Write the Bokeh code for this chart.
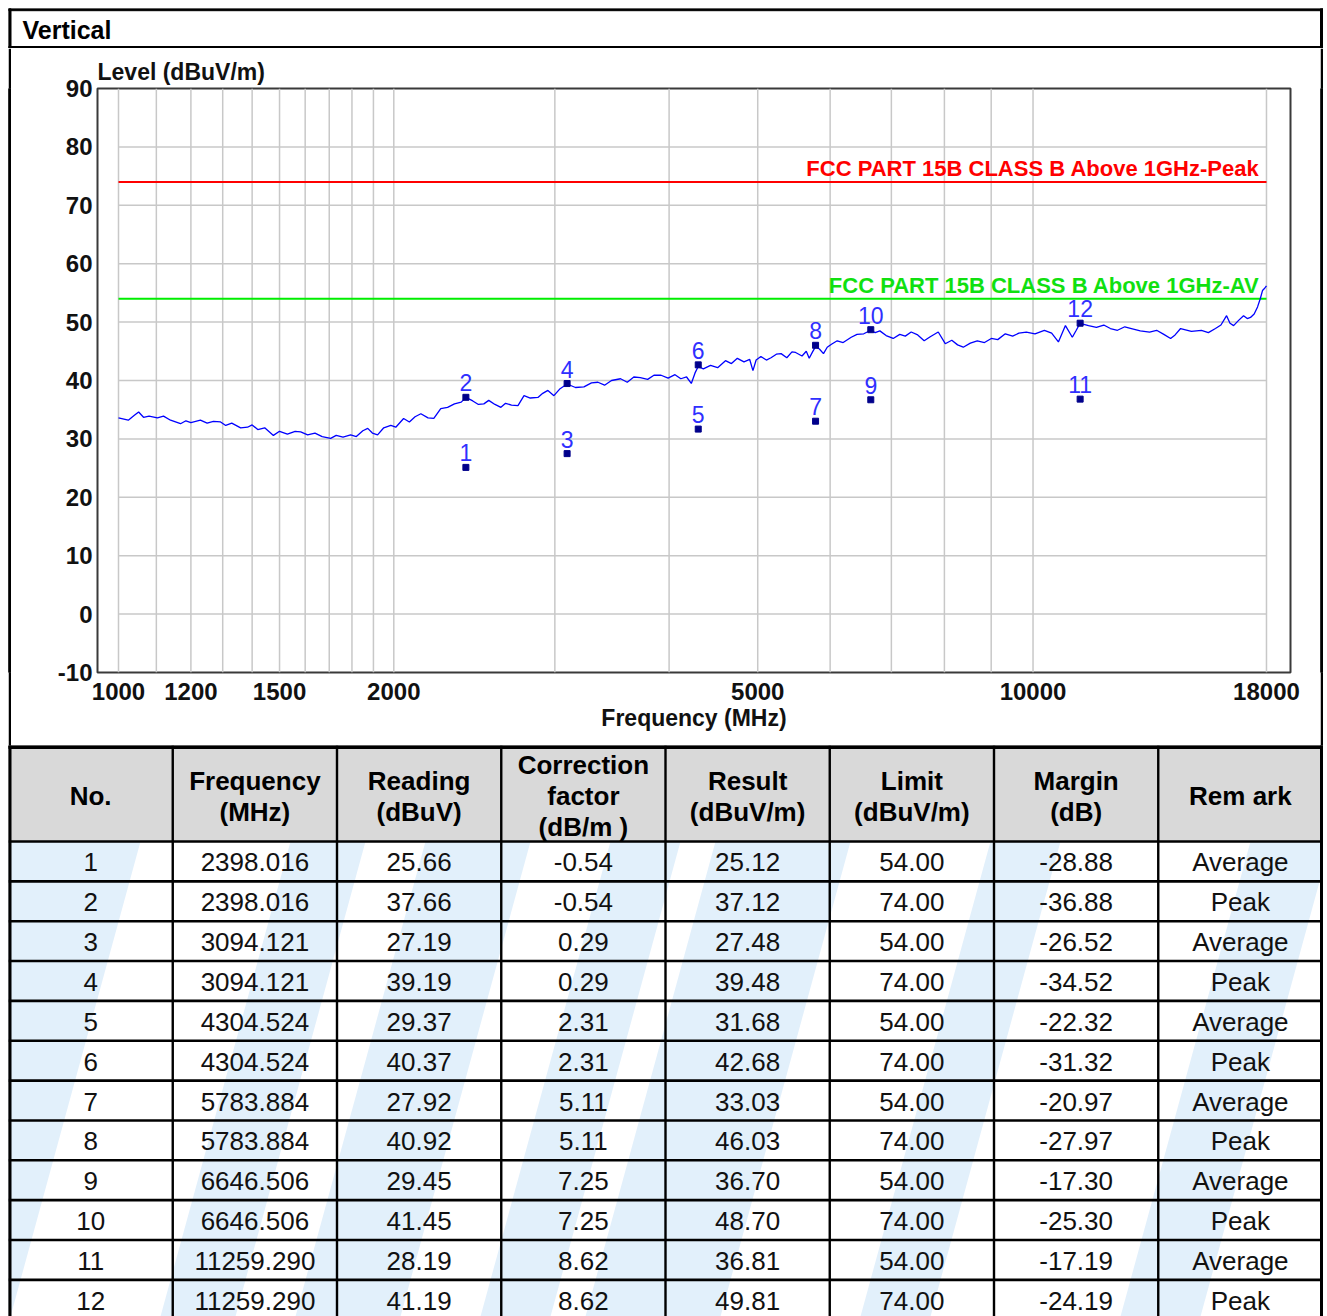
from bokeh.plotting import figure
from bokeh.models import Range1d, FixedTicker, PrintfTickFormatter
from bokeh.layouts import column, row
from bokeh.embed import file_html
from bokeh.resources import INLINE
from bokeh.core.properties import value

FONT = "Liberation Sans"

# ---------------- data ----------------
TRACE_FREQ = [1000, 1025, 1040, 1052, 1065, 1080, 1103, 1120, 1140, 1169, 1185, 1200, 1229, 1250, 1270,
              1293, 1310, 1330, 1360, 1384, 1400, 1420, 1445, 1477, 1500, 1530, 1560, 1582, 1610, 1640,
              1670, 1706, 1730, 1760, 1794, 1820, 1850, 1873, 1895, 1920, 1950, 1985, 2010, 2050, 2080,
              2110, 2141, 2180, 2212, 2251, 2290, 2330, 2370, 2398, 2440, 2475, 2509, 2540, 2580, 2619,
              2650, 2690, 2734, 2776, 2820, 2875, 2910, 2948, 2993, 3040, 3094, 3160, 3228, 3290, 3344,
              3400, 3460, 3540, 3600, 3660, 3720, 3790, 3850, 3920, 3990, 4060, 4120, 4180, 4230, 4270,
              4304, 4360, 4440, 4520, 4610, 4680, 4750, 4830, 4900, 4940, 4980, 5040, 5110, 5170, 5240,
              5303, 5380, 5450, 5500, 5590, 5650, 5692, 5740, 5784, 5840, 5900, 5956, 6020, 6108, 6200,
              6327, 6420, 6530, 6646, 6720, 6800, 6908, 7032, 7150, 7250, 7358, 7480, 7603, 7720, 7877,
              8017, 8150, 8270, 8389, 8540, 8690, 8850, 9003, 9150, 9326, 9500, 9650, 9833, 10050, 10290,
              10480, 10660, 10850, 11040, 11150, 11259, 11500, 11730, 11950, 12150, 12370, 12600, 12810, 13100, 13410,
              13650, 13900, 14140, 14300, 14500, 14900, 15280, 15550, 15830, 16050, 16280, 16420, 16570, 16780, 16990,
              17150, 17290, 17450, 17600, 17720, 17820, 17920, 18000]
TRACE_LEVEL = [33.6, 33.2, 34.0, 34.6, 33.7, 33.9, 33.6, 33.9, 33.2, 32.6, 33.1, 32.8, 33.2, 32.7, 33.0,
               32.9, 32.3, 32.7, 31.9, 32.0, 32.4, 31.6, 31.9, 30.6, 31.3, 30.8, 31.3, 31.2, 30.7, 31.0,
               30.4, 30.1, 30.6, 30.3, 30.7, 30.4, 31.4, 31.8, 31.0, 30.7, 31.9, 32.3, 32.0, 33.5, 32.9,
               33.8, 34.3, 33.6, 33.5, 35.2, 35.4, 36.0, 36.3, 37.1, 36.5, 35.9, 36.0, 36.6, 35.9, 35.4,
               36.1, 35.8, 35.7, 37.4, 37.0, 37.1, 37.8, 38.3, 37.4, 38.6, 39.4, 38.8, 38.9, 39.6, 39.7,
               39.2, 40.0, 40.3, 39.7, 40.6, 40.5, 40.2, 40.9, 40.9, 40.4, 41.0, 40.3, 40.6, 39.5, 41.3,
               42.4, 42.0, 42.6, 42.2, 43.4, 42.9, 43.8, 43.2, 43.6, 41.7, 43.5, 44.1, 43.5, 43.9, 44.5,
               44.6, 43.9, 44.9, 44.8, 44.2, 45.0, 43.8, 44.9, 45.8, 45.4, 44.6, 45.7, 46.2, 46.8, 46.5,
               47.4, 47.9, 48.0, 48.6, 48.2, 48.5, 47.7, 47.2, 47.9, 47.6, 48.3, 47.8, 46.8, 47.5, 48.3,
               46.3, 46.9, 46.1, 45.7, 46.4, 46.8, 46.5, 47.2, 47.0, 48.0, 47.6, 48.1, 48.3, 48.0, 48.6,
               48.1, 46.6, 49.4, 47.4, 48.6, 49.8, 49.4, 49.1, 49.5, 48.9, 48.6, 49.2, 48.9, 48.5, 48.3,
               48.6, 47.9, 47.2, 47.8, 48.9, 48.4, 48.6, 48.2, 48.9, 49.5, 51.1, 49.8, 49.4, 50.3, 51.1,
               50.6, 50.8, 51.4, 52.6, 54.0, 55.4, 55.8, 56.2]

MARK_NO = [1, 2, 3, 4, 5, 6, 7, 8, 9, 10, 11, 12]
MARK_FREQ = [2398.016, 2398.016, 3094.121, 3094.121, 4304.524, 4304.524,
             5783.884, 5783.884, 6646.506, 6646.506, 11259.290, 11259.290]
READING = [25.66, 37.66, 27.19, 39.19, 29.37, 40.37, 27.92, 40.92, 29.45, 41.45, 28.19, 41.19]
CORR = [-0.54, -0.54, 0.29, 0.29, 2.31, 2.31, 5.11, 5.11, 7.25, 7.25, 8.62, 8.62]
RESULT = [25.12, 37.12, 27.48, 39.48, 31.68, 42.68, 33.03, 46.03, 36.70, 48.70, 36.81, 49.81]
LIMIT = [54.00, 74.00, 54.00, 74.00, 54.00, 74.00, 54.00, 74.00, 54.00, 74.00, 54.00, 74.00]
MARGIN = [-28.88, -36.88, -26.52, -34.52, -22.32, -31.32, -20.97, -27.97, -17.30, -25.30, -17.19, -24.19]
REMARK = ["Average", "Peak"] * 6

LIMIT_SPAN = [1000, 18000]
LIMIT_PEAK = 74
LIMIT_AV = 54
LIMIT_PEAK_LABEL = "FCC PART 15B CLASS B Above 1GHz-Peak"
LIMIT_AV_LABEL = "FCC PART 15B CLASS B Above 1GHz-AV"

X_TICKS = [1000, 1200, 1500, 2000, 5000, 10000, 18000]
Y_TICKS = [-10, 0, 10, 20, 30, 40, 50, 60, 70, 80, 90]
GRID_X = [1000, 1100, 1200, 1300, 1400, 1500, 1600, 1700, 1800, 1900, 2000,
          3000, 4000, 5000, 6000, 7000, 8000, 9000, 10000, 18000]
GRID_Y = [0, 10, 20, 30, 40, 50, 60, 70, 80]

HEADERS = ["No.", "Frequency\n(MHz)", "Reading\n(dBuV)", "Correction\nfactor\n(dB/m )",
           "Result\n(dBuV/m)", "Limit\n(dBuV/m)", "Margin\n(dB)", "Rem ark"]
SECTION_TITLE = "Vertical"

# ---------------- layout constants ----------------
W = 1315
H_HEAD = 40
H_CHART = 697
H_TABLE = 571


def blank(width, height, xr, yr):
    f = figure(width=width, height=height, x_range=xr, y_range=yr, output_backend="svg",
               toolbar_location=None, min_border=0, x_axis_location=None, y_axis_location=None,
               outline_line_color=None, background_fill_color="white", border_fill_color="white")
    f.grid.visible = False
    return f


# ---------------- header ----------------
hd = blank(W, H_HEAD, Range1d(0, W), Range1d(H_HEAD, 0))
hd.quad(left=[0, 0, W - 3, 0], right=[W, 2.5, W, W], top=[0, 0, 0, 38],
        bottom=[2.2, H_HEAD, H_HEAD, H_HEAD], color="black")
hd.text(x=[14], y=[21], text=[SECTION_TITLE], text_baseline="middle", text_align="left",
        text_font=value(FONT), text_font_size="25px", text_font_style="bold", text_color="black")

# ---------------- chart ----------------
ch = figure(width=W - 6, height=H_CHART, x_axis_type="log",
            x_range=Range1d(948.5, 19122), y_range=Range1d(-10, 90),
            output_backend="svg", toolbar_location=None,
            min_border_left=86, min_border_right=30, min_border_top=40, min_border_bottom=73,
            title="Level (dBuV/m)", background_fill_color="white", border_fill_color="white")
ch.title.align = "left"
ch.title.text_font = FONT
ch.title.text_font_size = "23px"
ch.title.text_font_style = "bold"
ch.title.text_color = "#111111"
ch.title.standoff = 7
ch.xgrid.visible = False
ch.ygrid.visible = False
ch.outline_line_color = "#3a3a3a"
ch.outline_line_width = 2

for ax in (ch.xaxis[0], ch.yaxis[0]):
    ax.axis_line_color = None
    ax.major_tick_line_color = None
    ax.minor_tick_line_color = None
    ax.major_tick_in = 0
    ax.major_tick_out = 0
    ax.major_label_text_font = FONT
    ax.major_label_text_font_size = "24px"
    ax.major_label_text_font_style = "bold"
    ax.major_label_text_color = "#111111"
    ax.formatter = PrintfTickFormatter(format="%d")

ch.xaxis.ticker = FixedTicker(ticks=X_TICKS)
ch.xaxis.major_label_standoff = 10
ch.xaxis.axis_label = "Frequency (MHz)"
ch.xaxis.axis_label_text_font = FONT
ch.xaxis.axis_label_text_font_size = "23px"
ch.xaxis.axis_label_text_font_style = "bold"
ch.xaxis.axis_label_text_color = "#111111"
ch.xaxis.axis_label_standoff = 2
ch.yaxis.ticker = FixedTicker(ticks=Y_TICKS)
ch.yaxis.major_label_standoff = 5

# grid drawn over the measurement span only
ch.segment(x0=GRID_X, y0=Y_TICKS[0], x1=GRID_X, y1=Y_TICKS[-1], line_color="#c8c8c8", line_width=1.5)
ch.segment(x0=LIMIT_SPAN[0], y0=GRID_Y, x1=LIMIT_SPAN[1], y1=GRID_Y, line_color="#c8c8c8", line_width=1.5)

# limit lines
ch.line(LIMIT_SPAN, [LIMIT_PEAK, LIMIT_PEAK], line_color="#ff0000", line_width=2)
ch.line(LIMIT_SPAN, [LIMIT_AV, LIMIT_AV], line_color="#00ee00", line_width=2)
ch.text(x=[LIMIT_SPAN[1]], y=[LIMIT_PEAK], text=[LIMIT_PEAK_LABEL], text_align="right",
        text_baseline="bottom", x_offset=-7, y_offset=-1, text_font=value(FONT),
        text_font_size="22px", text_font_style="bold", text_color="#ff0000")
ch.text(x=[LIMIT_SPAN[1]], y=[LIMIT_AV], text=[LIMIT_AV_LABEL], text_align="right",
        text_baseline="bottom", x_offset=-7, y_offset=-1, text_font=value(FONT),
        text_font_size="22px", text_font_style="bold", text_color="#10e010")

# trace
ch.line(TRACE_FREQ, TRACE_LEVEL, line_color="#0000ff", line_width=1.3)

# markers
ch.scatter(MARK_FREQ, RESULT, marker="square", size=6, color="#00008b")
ch.text(x=MARK_FREQ, y=RESULT, text=[str(n) for n in MARK_NO], text_align="center",
        text_baseline="bottom", y_offset=-6, text_font=value(FONT),
        text_font_size="23px", text_color="#2f2fff")


def side_bar(height):
    f = blank(3, height, Range1d(0, 1), Range1d(0, 1))
    f.background_fill_color = "black"
    f.border_fill_color = "black"
    f.quad(left=[0], right=[1], bottom=[0], top=[1], color="black")
    return f


# ---------------- table ----------------
tb = blank(W, H_TABLE, Range1d(0, W), Range1d(H_TABLE, 0))
COLX = [i * (W - 1) / 8 for i in range(9)]
HEAD_TOP = 3
HEAD_BOT = 96
ROW_H = 39.85

# watermark bands (light blue swooshes)
band_top = [(-68, 132), (282, 357), (417, 522), (602, 672), (707, 842), (982, 1052), (1242, 1322)]
shift = -130
xs, ys = [], []
for a, b in band_top:
    xs.append([a, b, b + shift, a + shift])
    ys.append([HEAD_BOT, HEAD_BOT, H_TABLE, H_TABLE])
tb.patches(xs, ys, fill_color="#e2f0fb", line_color=None)

# header background
tb.quad(left=[2.5], right=[W - 3], top=[HEAD_TOP], bottom=[HEAD_BOT], color="#d9d9d9")

# header texts
hx, hy, ht = [], [], []
for i, h in enumerate(HEADERS):
    lines = h.split("\n")
    n = len(lines)
    cx = (COLX[i] + COLX[i + 1]) / 2
    for k, ln in enumerate(lines):
        hx.append(cx)
        hy.append(50.5 + (k - (n - 1) / 2) * 31)
        ht.append(ln)
tb.text(x=hx, y=hy, text=ht, text_align="center", text_baseline="middle",
        text_font=value(FONT), text_font_size="26px", text_font_style="bold", text_color="black")

# body texts
cols = [[str(n) for n in MARK_NO],
        ["%.3f" % v for v in MARK_FREQ],
        ["%.2f" % v for v in READING],
        ["%.2f" % v for v in CORR],
        ["%.2f" % v for v in RESULT],
        ["%.2f" % v for v in LIMIT],
        ["%.2f" % v for v in MARGIN],
        REMARK]
bx, by, bt = [], [], []
for i, col in enumerate(cols):
    cx = (COLX[i] + COLX[i + 1]) / 2
    for r, s in enumerate(col):
        bx.append(cx)
        by.append(HEAD_BOT + ROW_H * (r + 0.5) + 1)
        bt.append(s)
tb.text(x=bx, y=by, text=bt, text_align="center", text_baseline="middle",
        text_font=value(FONT), text_font_size="26px", text_color="#111111")

# grid lines of the table
row_y = [HEAD_BOT] + [HEAD_BOT + ROW_H * (r + 1) for r in range(len(MARK_NO))]
tb.segment(x0=0, x1=W, y0=row_y, y1=row_y, line_color="black", line_width=2.6)
tb.segment(x0=COLX[1:-1], x1=COLX[1:-1], y0=0, y1=H_TABLE, line_color="black", line_width=2.4)
tb.quad(left=[0, 0, W - 3], right=[W, 2.5, W], top=[0, 0, 0], bottom=[3, H_TABLE, H_TABLE], color="black")

layout = column(hd, row(side_bar(H_CHART), ch, side_bar(H_CHART)), tb, margin=(8, 0, 0, 8))

open("out.html", "w").write(file_html(layout, INLINE))
